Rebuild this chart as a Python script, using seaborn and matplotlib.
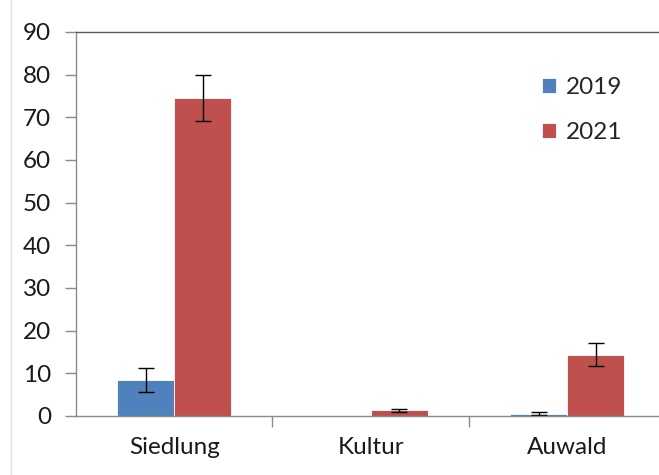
import pandas as pd
import matplotlib.pyplot as plt
import matplotlib.lines as mlines
import seaborn as sns

# values
habitats = ['Siedlung', 'Kultur', 'Auwald']
years = ['2019', '2021']
mean_2019 = [8.5, 0.0, 0.55]
mean_2021 = [74.6, 1.3, 14.4]
err_2019 = [2.8, 0.0, 0.35]
err_2021 = [5.4, 0.4, 2.6]

df = pd.DataFrame({
    'habitat': habitats * 2,
    'year': ['2019'] * 3 + ['2021'] * 3,
    'value': mean_2019 + mean_2021,
    'err': err_2019 + err_2021,
})

sns.set_style('white')
plt.rcParams['font.family'] = ['Lato', 'DejaVu Sans']

fig = plt.figure(figsize=(6.59, 4.75), dpi=100)
ax = fig.add_axes([76 / 659, 59 / 475, 583 / 659, 384 / 475])

sns.barplot(data=df, x='habitat', y='value', hue='year', order=habitats,
            hue_order=years, palette=['#4F81BD', '#C0504D'], saturation=1,
            width=0.58, errorbar=None, edgecolor='white', linewidth=0.6, ax=ax)

# error bars on the bar centres
for yr, cont in zip(years, ax.containers):
    sub = df[df.year == yr].set_index('habitat').loc[habitats]
    xs = [p.get_x() + p.get_width() / 2 for p in cont.patches]
    hs = sub['value'].values
    es = sub['err'].values
    mask = es > 0
    ax.errorbar([x for x, m in zip(xs, mask) if m], hs[mask], yerr=es[mask],
                fmt='none', ecolor='black', elinewidth=1, capsize=5.5, capthick=1)

ax.set_ylim(0, 90)
ax.set_yticks(range(0, 91, 10))
ax.set_xlim(-0.5, 2.467)
ax.set_xlabel('')
ax.set_ylabel('')

for s in ['left', 'bottom', 'top']:
    ax.spines[s].set_visible(True)
    ax.spines[s].set_color('#8c8c8c')
    ax.spines[s].set_linewidth(1)
ax.spines['top'].set_color('#595959')
ax.spines['right'].set_visible(False)

ax.tick_params(axis='y', which='major', direction='out', length=8, width=1,
               color='#8c8c8c', left=True, labelsize=17.5, pad=10,
               labelcolor='#1a1a1a')
ax.tick_params(axis='x', which='major', length=0, labelsize=17.5, pad=15,
               labelcolor='#1a1a1a')
ax.set_xticks([0.5, 1.5], minor=True)
ax.tick_params(axis='x', which='minor', direction='out', length=8, width=1,
               color='#8c8c8c', bottom=True)

leg = ax.legend(loc='upper right', bbox_to_anchor=(0.975, 0.94), frameon=False,
                fontsize=17.5, handlelength=0.6, handleheight=0.6,
                handletextpad=0.4, labelspacing=1.0)

fig.add_artist(mlines.Line2D([11 / 659, 11 / 659], [0, 1], color='#e0e0e0', lw=1))

fig.savefig('out.png', dpi=100)
